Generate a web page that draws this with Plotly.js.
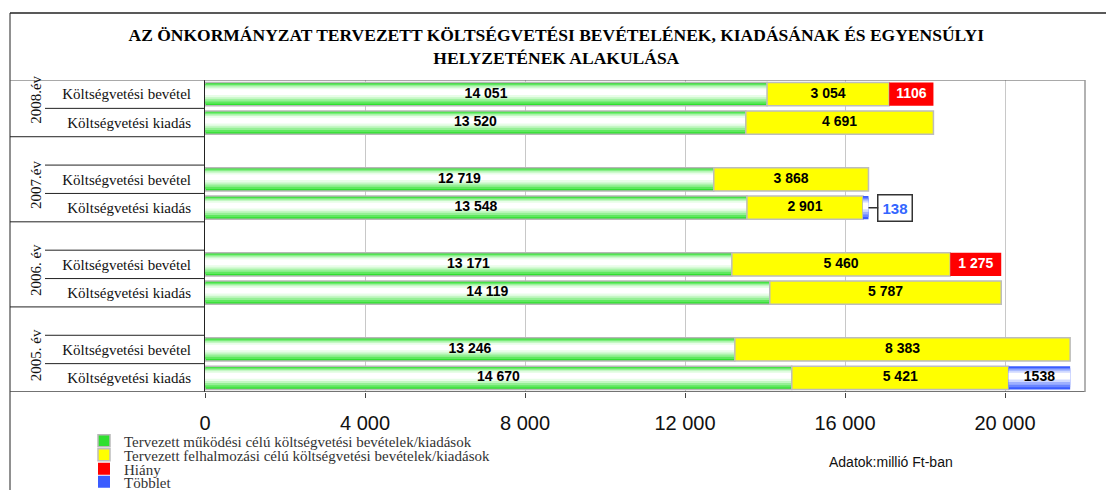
<!DOCTYPE html>
<html>
<head>
<meta charset="utf-8">
<script src="https://cdn.plot.ly/plotly-3.0.1.min.js"></script>
<style>html,body{margin:0;padding:0;background:#fff;}#chart{width:1106px;height:490px;}</style>
</head>
<body>
<div id="chart"></div>
<script>
// ---- data ----
const years = ['2008.év', '2007.év', '2006. év', '2005. év'];
const rowNames = ['Költségvetési bevétel', 'Költségvetési kiadás',
                  'Költségvetési bevétel', 'Költségvetési kiadás',
                  'Költségvetési bevétel', 'Költségvetési kiadás',
                  'Költségvetési bevétel', 'Költségvetési kiadás'];
const rowPos = [0, 1, 3, 4, 6, 7, 9, 10];          // row slots (blank slot before each earlier year)
const yearPos = [0, 3, 6, 9];                       // slot of each year's first row
const operating = [14051, 13520, 12719, 13548, 13171, 14119, 13246, 14670];
const capital   = [3054, 4691, 3868, 2901, 5460, 5787, 8383, 5421];
const deficit   = [1106, null, null, null, 1275, null, null, null];
const surplus   = [null, null, null, 138, null, null, null, 1538];
const deficitLabels = ['1106', '', '', '', '1 275', '', '', ''];
const surplusLabels = ['', '', '', '', '', '', '', '1538'];
const seriesNames = ['Tervezett működési célú költségvetési bevételek/kiadások',
                     'Tervezett felhalmozási célú költségvetési bevételek/kiadások',
                     'Hiány', 'Többlet'];
const unitNote = 'Adatok:millió Ft-ban';
const xTicks = [0, 4000, 8000, 12000, 16000, 20000];

// ---- helpers ----
const fmt = v => String(v).replace(/\B(?=(\d{3})+(?!\d))/g, ' ');
const capBase = operating.slice();
const defBase = operating.map((v, i) => v + capital[i]);
const surBase = defBase.slice();

const W = 1106, H = 490, ML = 205, MR = 21, MT = 80, MB = 98;
const PW = W - ML - MR, PH = H - MT - MB;
const px2x = p => (p - ML) / PW;
const py2y = p => (H - MB - p) / PH;

const traces = [];
function layered(x, base, layers, name, legend, baseLine) {
  layers.forEach((L, k) => {
    traces.push({
      type: 'bar', orientation: 'h', x: x, base: base, y: rowPos,
      width: L.w, offset: -L.w / 2 - (L.s || 0),
      marker: {color: L.c, line: k === 0 ? baseLine : {width: 0}},
      name: name, showlegend: k === 0, legend: legend,
      hoverinfo: 'skip'
    });
  });
}
const greenLayers = [
  {w: 0.82, c: '#2fdf2f'}, {w: 0.70, c: '#5fe85f', s: 0.01}, {w: 0.58, c: '#95f095', s: 0.03},
  {w: 0.46, c: '#c4f7c4', s: 0.05}, {w: 0.34, c: '#e8fde8', s: 0.06}, {w: 0.20, c: '#ffffff', s: 0.07}
];
const blueLayers = [
  {w: 0.82, c: '#3a5cff'}, {w: 0.68, c: '#6b86ff', s: 0.01}, {w: 0.54, c: '#9eb0ff', s: 0.03},
  {w: 0.40, c: '#d0d9ff', s: 0.05}, {w: 0.24, c: '#ffffff', s: 0.06}
];
layered(operating, operating.map(() => 0), greenLayers, seriesNames[0], 'legend', {color: '#b8b8b8', width: 1.5});
layered(capital, capBase, [{w: 0.82, c: '#ffff00'}], seriesNames[1], 'legend2', {color: '#bdbdbd', width: 1.5});
layered(deficit, defBase, [{w: 0.82, c: '#ff0000'}], seriesNames[2], 'legend3', {width: 0});
layered(surplus, surBase, blueLayers, seriesNames[3], 'legend4', {width: 0});

// value labels
const lblFont = {family: 'Liberation Sans, Arial, sans-serif', size: 14, color: '#000', weight: 'bold'};
function textTrace(x, labels, color) {
  traces.push({
    type: 'scatter', mode: 'text', x: x, y: rowPos, text: labels,
    textposition: 'middle center', textfont: Object.assign({}, lblFont, {color: color}),
    showlegend: false, hoverinfo: 'skip', cliponaxis: false
  });
}
textTrace(operating.map(v => v / 2), operating.map(fmt), '#000');
textTrace(capital.map((v, i) => capBase[i] + v / 2), capital.map(fmt), '#000');
textTrace(deficit.map((v, i) => v == null ? null : defBase[i] + v / 2), deficitLabels, '#ffffff');
textTrace(surplus.map((v, i) => v == null ? null : surBase[i] + v / 2), surplusLabels, '#000');

// ---- shapes: frame & label grid ----
const lineDark = {color: '#222', width: 1};
const shapes = [];
const xL = px2x(10), xM = px2x(45);
// outer frame
shapes.push({type: 'line', xref: 'paper', yref: 'paper', x0: xL, x1: px2x(1106), y0: py2y(13), y1: py2y(13), line: {color: '#222', width: 1.5}});
shapes.push({type: 'line', xref: 'paper', yref: 'paper', x0: xL, x1: xL, y0: py2y(13), y1: py2y(490), line: lineDark});
// plot box
shapes.push({type: 'line', xref: 'paper', yref: 'y', x0: xL, x1: 1, y0: -0.5, y1: -0.5, line: {color: '#555', width: 1}});
shapes.push({type: 'line', xref: 'paper', yref: 'y', x0: xL, x1: 1, y0: 10.5, y1: 10.5, line: {color: '#444', width: 1.5}});
shapes.push({type: 'line', xref: 'paper', yref: 'y', x0: 1, x1: 1, y0: -0.5, y1: 10.5, line: {color: '#999', width: 1.5}});
// group separators (full width of label area)
[1.5, 4.5, 7.5].forEach(v => shapes.push({type: 'line', xref: 'paper', yref: 'y', x0: xL, x1: 0, y0: v, y1: v, line: lineDark}));
// row separators inside groups
[0.5, 2.5, 3.5, 5.5, 6.5, 8.5, 9.5].forEach(v => shapes.push({type: 'line', xref: 'paper', yref: 'y', x0: xM, x1: 0, y0: v, y1: v, line: lineDark}));

// ---- annotations ----
const serif = 'Liberation Serif, Times New Roman, serif';
const annotations = [];
years.forEach((t, i) => annotations.push({
  text: t, xref: 'paper', yref: 'y', x: px2x(26), y: yearPos[i] + 0.2,
  textangle: -90, showarrow: false, font: {family: serif, size: 15, color: '#111'}
}));
annotations.push({
  text: String(surplus[3]), xref: 'x', yref: 'y', x: surBase[3] + surplus[3], y: rowPos[3],
  showarrow: true, arrowhead: 0, arrowwidth: 1.5, arrowcolor: '#333', ax: 27, ay: 0,
  bordercolor: '#333', borderwidth: 1.5, borderpad: 4, bgcolor: '#fff',
  font: {family: 'Liberation Sans, Arial, sans-serif', size: 15, color: '#3366ff', weight: 'bold'}
});
annotations.push({
  text: unitNote, xref: 'paper', yref: 'paper', x: px2x(955), y: py2y(472),
  showarrow: false, font: {family: 'Liberation Sans, Arial, sans-serif', size: 14, color: '#111'}
});

const legendCommon = {
  x: px2x(84), xanchor: 'left', yanchor: 'middle', bgcolor: 'rgba(0,0,0,0)', borderwidth: 0,
  font: {family: serif, size: 15, color: '#333'}, itemwidth: 30
};
const layout = {
  width: W, height: H,
  margin: {l: ML, r: MR, t: MT, b: MB, pad: 0, autoexpand: false},
  paper_bgcolor: '#fff', plot_bgcolor: '#fff',
  separators: ', ',
  barmode: 'overlay',
  title: {
    text: '<b>AZ ÖNKORMÁNYZAT TERVEZETT KÖLTSÉGVETÉSI BEVÉTELÉNEK, KIADÁSÁNAK ÉS EGYENSÚLYI<br>HELYZETÉNEK ALAKULÁSA</b>',
    x: 0.503, xref: 'container', y: 1 - 41 / H, yref: 'container', yanchor: 'middle',
    font: {family: serif, size: 17.5, color: '#000'}
  },
  xaxis: {
    range: [0, 22000], tickvals: xTicks, tickformat: ',d',
    showgrid: true, gridcolor: '#c8c8c8', gridwidth: 1, zeroline: false,
    ticks: 'outside', ticklen: 5, tickcolor: '#444', showline: false,
    ticklabelstandoff: 8,
    tickfont: {family: 'Liberation Sans, Arial, sans-serif', size: 20, color: '#111'}
  },
  yaxis: {
    range: [10.5, -0.5], tickvals: rowPos, ticktext: rowNames,
    showgrid: false, zeroline: false, ticks: '', showline: true, linecolor: '#222', linewidth: 1,
    ticklabelstandoff: 10,
    tickfont: {family: serif, size: 15, color: '#111'}
  },
  legend: Object.assign({}, legendCommon, {y: py2y(441)}),
  legend2: Object.assign({}, legendCommon, {y: py2y(455)}),
  legend3: Object.assign({}, legendCommon, {y: py2y(469)}),
  legend4: Object.assign({}, legendCommon, {y: py2y(482)}),
  shapes: shapes,
  annotations: annotations,
  showlegend: true
};
Plotly.newPlot('chart', traces, layout, {displayModeBar: false, staticPlot: true});
</script>
</body>
</html>
